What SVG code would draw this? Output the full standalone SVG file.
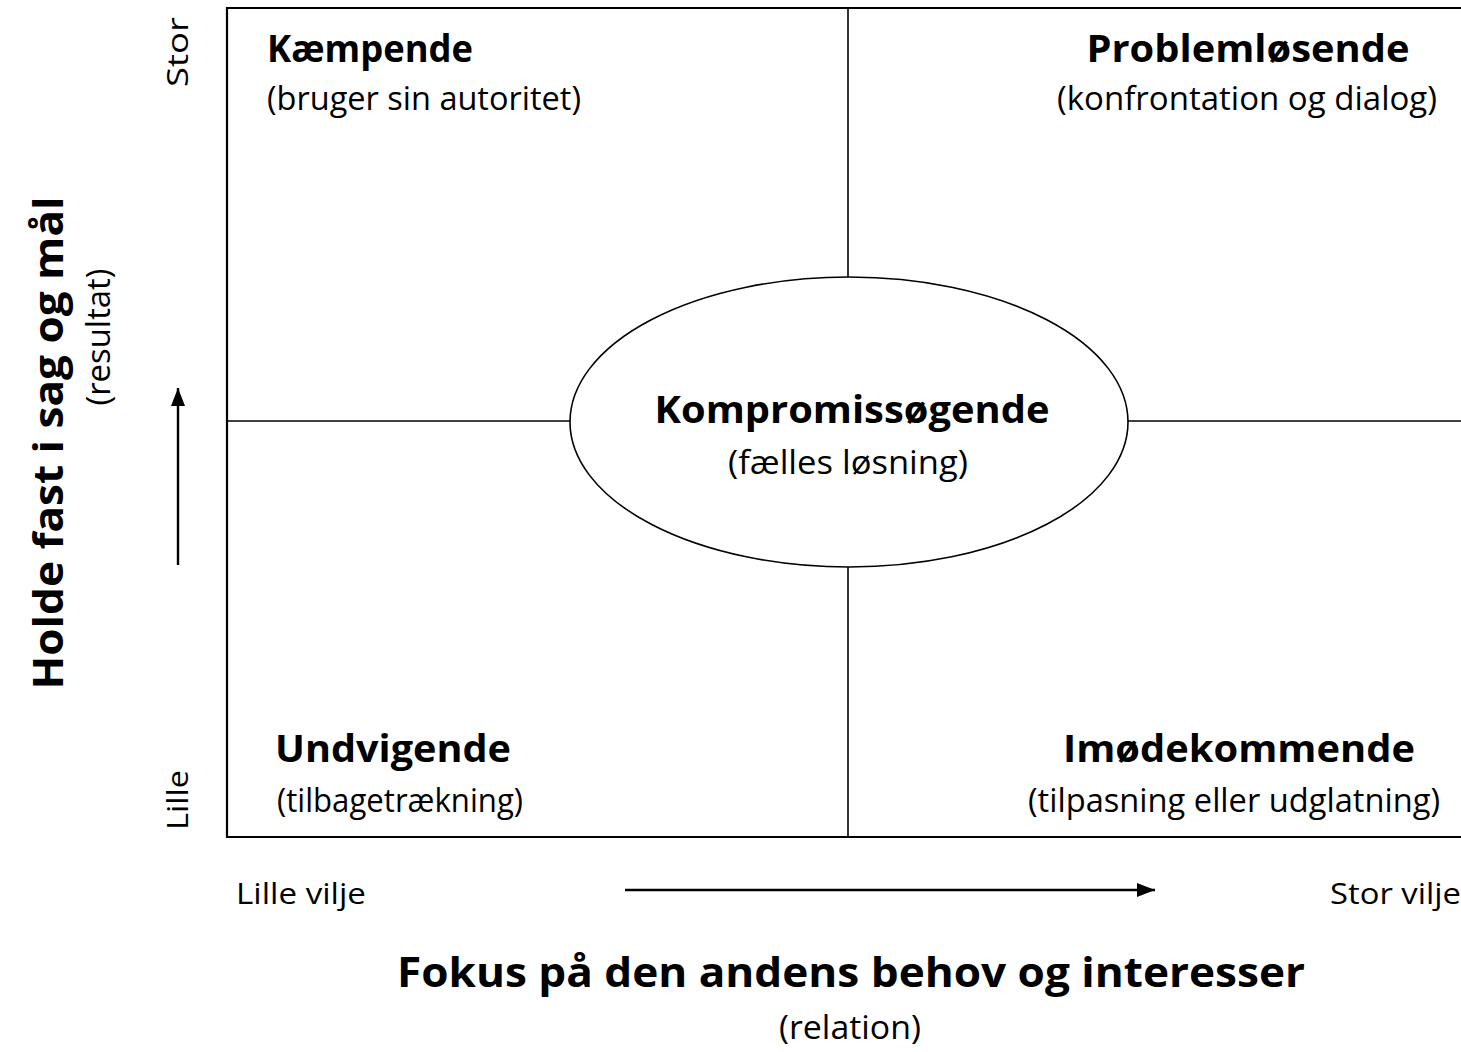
<svg xmlns="http://www.w3.org/2000/svg" width="1461" height="1052" viewBox="0 0 1461 1052">
<defs>
<style>
text{font-family:"Open Sans","Noto Sans","Liberation Sans",sans-serif;fill:#000}
.h{font-weight:bold;font-size:37px}
.s{font-size:32px}
.ax{font-size:29px}
.big{font-weight:bold;font-size:42px}
.ln{stroke:#000;stroke-width:1.6;fill:none}
.box{stroke:#000;stroke-width:2.2;fill:none}
</style>
<marker id="ah2" viewBox="0 0 18 14" refX="18" refY="7" markerWidth="18" markerHeight="14" markerUnits="userSpaceOnUse" orient="auto">
<path d="M0,0 L18,7 L0,14 z" fill="#000"/>
</marker>
</defs>
<g id="grid">
<path class="box" d="M1461,8 H227 V837 H1461"/>
<line class="ln" x1="848" y1="8" x2="848" y2="277"/>
<line class="ln" x1="848" y1="567" x2="848" y2="837"/>
<line class="ln" x1="227" y1="421" x2="570" y2="421"/>
<line class="ln" x1="1128" y1="421" x2="1461" y2="421"/>
</g>
<g id="connectors">
<line x1="178" y1="565" x2="178" y2="388" stroke="#000" stroke-width="2.4" marker-end="url(#ah2)"/>
<line x1="625" y1="890" x2="1155" y2="890" stroke="#000" stroke-width="2.4" marker-end="url(#ah2)"/>
</g>
<g id="kaempende">
<text class="h" x="267" y="62" textLength="206" lengthAdjust="spacingAndGlyphs">Kæmpende</text>
<text class="s" x="267" y="110" textLength="314" lengthAdjust="spacingAndGlyphs">(bruger sin autoritet)</text>
</g>
<g id="probleml">
<text class="h" x="1248" y="62" text-anchor="middle" textLength="323" lengthAdjust="spacingAndGlyphs">Problemløsende</text>
<text class="s" x="1247" y="110" text-anchor="middle" textLength="380" lengthAdjust="spacingAndGlyphs">(konfrontation og dialog)</text>
</g>
<g id="kompromis">
<ellipse class="ln" cx="849" cy="422" rx="279" ry="145"/>
<text class="h" x="852" y="423" text-anchor="middle" textLength="395" lengthAdjust="spacingAndGlyphs">Kompromissøgende</text>
<text class="s" x="848" y="474" text-anchor="middle" textLength="240" lengthAdjust="spacingAndGlyphs">(fælles løsning)</text>
</g>
<g id="undvigende">
<text class="h" x="275" y="762" textLength="236" lengthAdjust="spacingAndGlyphs">Undvigende</text>
<text class="s" x="277" y="812" textLength="246" lengthAdjust="spacingAndGlyphs">(tilbagetrækning)</text>
</g>
<g id="imoedekommende">
<text class="h" x="1239" y="762" text-anchor="middle" textLength="352" lengthAdjust="spacingAndGlyphs">Imødekommende</text>
<text class="s" x="1234" y="812" text-anchor="middle" textLength="412" lengthAdjust="spacingAndGlyphs">(tilpasning eller udglatning)</text>
</g>
<g id="yaxis">
<text class="big" transform="translate(63,443) rotate(-90)" text-anchor="middle" textLength="493" lengthAdjust="spacingAndGlyphs">Holde fast i sag og mål</text>
<text class="s" transform="translate(110,337) rotate(-90)" text-anchor="middle" textLength="137" lengthAdjust="spacingAndGlyphs">(resultat)</text>
<text class="ax" transform="translate(188,52) rotate(-90)" text-anchor="middle" textLength="70" lengthAdjust="spacingAndGlyphs">Stor</text>
<text class="ax" transform="translate(188,800) rotate(-90)" text-anchor="middle" textLength="60" lengthAdjust="spacingAndGlyphs">Lille</text>
</g>
<g id="xaxis">
<text class="ax" x="236" y="904" textLength="130" lengthAdjust="spacingAndGlyphs">Lille vilje</text>
<text class="ax" x="1330" y="904" textLength="131" lengthAdjust="spacingAndGlyphs">Stor vilje</text>
<text class="big" x="851" y="987" text-anchor="middle" textLength="908" lengthAdjust="spacingAndGlyphs">Fokus på den andens behov og interesser</text>
<text class="s" x="850" y="1039" text-anchor="middle" textLength="142" lengthAdjust="spacingAndGlyphs">(relation)</text>
</g>
</svg>
